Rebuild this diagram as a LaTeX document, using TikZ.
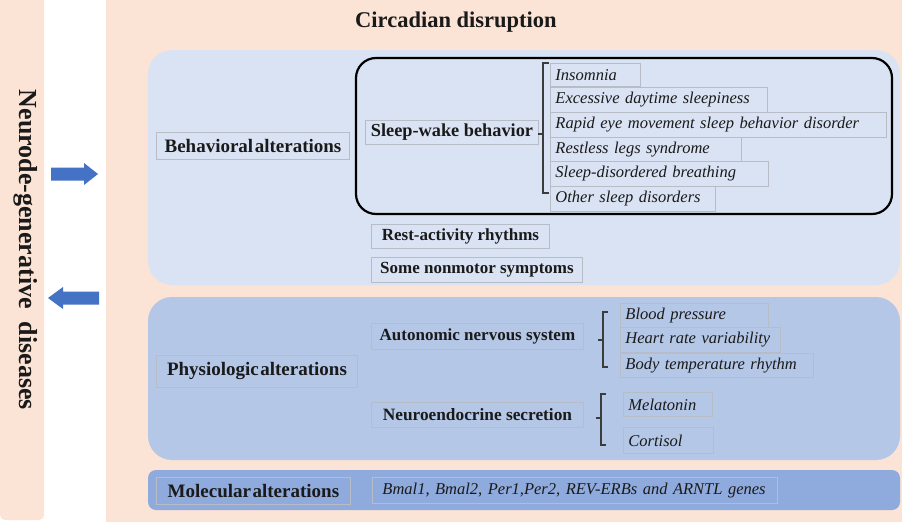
\documentclass[tikz,border=0pt]{standalone}
\usepackage{fontspec}
\setmainfont{Liberation Serif}
\definecolor{peach}{HTML}{FBE4D5}
\definecolor{behbg}{HTML}{DAE3F3}
\definecolor{phybg}{HTML}{B4C7E7}
\definecolor{molbg}{HTML}{8FAADC}
\definecolor{arrowblue}{HTML}{4472C4}
\definecolor{brd}{HTML}{B8BCC6}
\definecolor{ink}{HTML}{1A1A1A}
\begin{document}
\begin{tikzpicture}[x=1pt,y=-1pt,
  mainlbl/.style={draw=brd, line width=0.9pt, inner sep=1pt, anchor=north west, text=ink,
    font=\fontsize{19}{21}\selectfont\bfseries},
  sublbl/.style={draw=brd, line width=0.9pt, inner sep=1pt, anchor=north west, text=ink,
    font=\fontsize{17}{19}\selectfont\bfseries},
  itm/.style={draw=brd, line width=0.9pt, inner xsep=5pt, inner ysep=0pt, anchor=north west, text=ink,
    align=left, font=\fontsize{16.5}{19}\selectfont\itshape},
  panel/.style={rounded corners=24pt},
  bracket/.style={draw=ink!85, line width=1.1pt},
  blockarrow/.style={fill=arrowblue, draw=none}
]
\useasboundingbox (0,0) rectangle (902,522);
% backgrounds
\fill[white] (0,0) rectangle (902,522);
\fill[peach] (0,0) -- (44,0) [rounded corners=5pt] -- (44,520) -- (0,520) [sharp corners] -- cycle;
\fill[peach] (106,0) rectangle (902,522);
\fill[behbg, panel] (148,50) rectangle (900,285);
\fill[phybg, panel] (148,297) rectangle (900,460);
\fill[molbg, rounded corners=8pt] (148,470) rectangle (900,510);

% title and side text
\node[font=\fontsize{22.5}{25}\selectfont\bfseries, text=ink] (title) at (456,22) {Circadian disruption};
\node[rotate=-90, font=\fontsize{26}{28}\selectfont\bfseries, text=ink] (nd) at (26,250) {Neurode-generative\ \ diseases};

% arrows
\fill[blockarrow] (51,167.5) -- (84,167.5) -- (84,163) -- (98,174) -- (84,185) -- (84,180.5) -- (51,180.5) -- cycle;
\fill[blockarrow] (99,291.5) -- (63,291.5) -- (63,287) -- (48,298) -- (63,309) -- (63,304.5) -- (99,304.5) -- cycle;

% behavioral
\node[mainlbl, minimum width=193pt, minimum height=27pt] (beh) at (156,132) {Behavioral\hspace{0.08em}alterations};
\draw[line width=2.2pt, rounded corners=20pt] (356,58) rectangle (892,214);
\node[sublbl, minimum width=173pt, minimum height=24pt, font=\fontsize{18.3}{20}\selectfont\bfseries] (sw) at (365,120) {Sleep-wake behavior};
\draw[bracket] (549,63) -- (543,63) -- (543,193) -- (549,193);
\draw[bracket] (543,134) -- (538,134);
\node[itm, text width=80pt, minimum height=23pt] (i1) at (550,63) {Insomnia};
\node[itm, text width=207pt, minimum height=25pt] (i2) at (550,87) {Excessive daytime sleepiness};
\node[itm, text width=326pt, minimum height=25pt] (i3) at (550,112) {Rapid eye movement sleep behavior disorder};
\node[itm, text width=181pt, minimum height=24pt] (i4) at (550,137) {Restless legs syndrome};
\node[itm, text width=208pt, minimum height=25pt] (i5) at (550,161) {Sleep-disordered breathing};
\node[itm, text width=155pt, minimum height=25pt] (i6) at (550,186) {Other sleep disorders};
\node[sublbl, minimum width=178pt, minimum height=24pt] (ra) at (371,224) {Rest-activity rhythms};
\node[sublbl, minimum width=211pt, minimum height=25pt] (nm) at (371,257) {Some nonmotor symptoms};

% physiologic
\node[mainlbl, minimum width=201pt, minimum height=32pt] (phy) at (156,355) {Physiologic\hspace{0.08em}alterations};
\node[sublbl, minimum width=212pt, minimum height=26pt] (ans) at (371,323) {Autonomic nervous system};
\draw[bracket] (608,312) -- (603,312) -- (603,367) -- (608,367);
\draw[bracket] (603,340) -- (598,340);
\node[itm, text width=138pt, minimum height=24pt] (b1) at (620,303) {Blood pressure};
\node[itm, text width=150pt, minimum height=25pt] (b2) at (620,327) {Heart rate variability};
\node[itm, text width=183pt, minimum height=24pt] (b3) at (620,353) {Body temperature rhythm};
\node[sublbl, minimum width=212pt, minimum height=25pt, font=\fontsize{17.3}{19}\selectfont\bfseries] (neu) at (371,402) {Neuroendocrine secretion};
\draw[bracket] (606,394) -- (601,394) -- (601,445) -- (606,445);
\draw[bracket] (601,418) -- (596,418);
\node[itm, text width=79pt, minimum height=24pt] (m1) at (623,392) {Melatonin};
\node[itm, text width=80pt, minimum height=26pt] (m2) at (623,427) {Cortisol};

% molecular
\node[mainlbl, minimum width=194pt, minimum height=27pt] (mol) at (156,477) {Molecular\hspace{0.08em}alterations};
\node[itm, inner xsep=10pt, text width=385pt, minimum height=26pt] (genes) at (372,477) {Bmal1, Bmal2, Per1,Per2, REV-ERBs and ARNTL genes};
\end{tikzpicture}
\end{document}
